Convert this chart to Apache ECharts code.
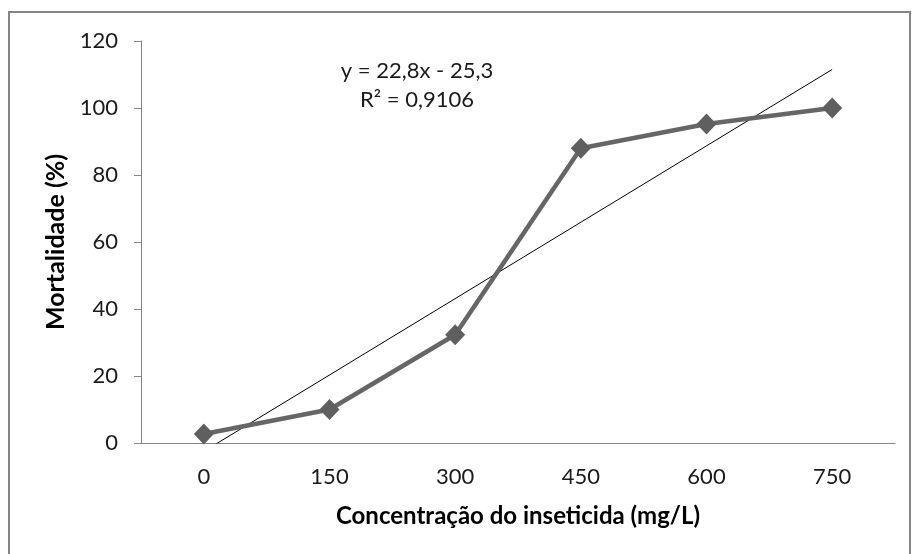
<!DOCTYPE html>
<html>
<head>
<meta charset="utf-8">
<script src="https://cdn.jsdelivr.net/npm/echarts@6/dist/echarts.min.js"></script>
<style>html,body{margin:0;padding:0;background:#fff}#c{width:912px;height:554px}</style>
</head>
<body>
<div id="c"></div>
<script>
const categories = ['0', '150', '300', '450', '600', '750'];
const mortalidade = [2.7, 10, 32.3, 88, 95.2, 100];
const trendPoints = [[0, -2.5], [5, 111.5]];
const yTicks = { min: 0, max: 120, interval: 20 };
const equationText = 'y = 22,8x - 25,3';
const r2Text = 'R² = 0,9106';
const xTitle = 'Concentração do inseticida (mg/L)';
const yTitle = 'Mortalidade (%)';

const FONT = 'Lato';
const chart = echarts.init(document.getElementById('c'), null, { renderer: 'canvas' });
chart.setOption({
  animation: false,
  backgroundColor: '#fff',
  grid: { left: 141, top: 41, right: 17, bottom: 111, containLabel: false },
  xAxis: {
    type: 'category',
    data: categories,
    boundaryGap: true,
    axisLine: { lineStyle: { color: '#868686', width: 1 } },
    axisTick: { length: 8, lineStyle: { color: '#868686' } },
    axisLabel: { color: '#1a1a1a', fontFamily: FONT, fontSize: 22, margin: 23 },
    name: xTitle,
    nameLocation: 'middle',
    nameGap: 73,
    nameTextStyle: { color: '#000', fontFamily: FONT, fontSize: 24, fontWeight: 'bold', verticalAlign: 'middle' }
  },
  yAxis: {
    type: 'value',
    min: yTicks.min, max: yTicks.max, interval: yTicks.interval,
    splitLine: { show: false },
    axisLine: { show: true, lineStyle: { color: '#868686', width: 1 } },
    axisTick: { show: true, length: 7, lineStyle: { color: '#868686' } },
    axisLabel: { color: '#1a1a1a', fontFamily: FONT, fontSize: 22, margin: 23 },
    name: yTitle,
    nameLocation: 'middle',
    nameRotate: 90,
    nameGap: 84,
    nameTextStyle: { color: '#000', fontFamily: FONT, fontSize: 25, fontWeight: 'bold', verticalAlign: 'middle' }
  },
  series: [
    {
      type: 'line',
      data: mortalidade,
      symbol: 'diamond',
      symbolSize: [20, 21],
      itemStyle: { color: '#5f5f5f' },
      lineStyle: { color: '#666666', width: 4.5 },
      z: 3
    },
    {
      type: 'line',
      data: trendPoints,
      symbol: 'none',
      clip: true,
      lineStyle: { color: '#000', width: 1 },
      z: 2
    }
  ],
  graphic: [
    { type: 'rect', shape: { x: 9, y: 12, width: 901, height: 560 }, style: { fill: 'none', stroke: '#858585', lineWidth: 2 }, silent: true },
    { type: 'text', x: 417, y: 71, style: { text: equationText, font: '22px ' + FONT, fill: '#1a1a1a', textAlign: 'center', textVerticalAlign: 'middle' } },
    { type: 'text', x: 417, y: 100, style: { text: r2Text, font: '22px ' + FONT, fill: '#1a1a1a', textAlign: 'center', textVerticalAlign: 'middle' } }
  ]
});
</script>
</body>
</html>
